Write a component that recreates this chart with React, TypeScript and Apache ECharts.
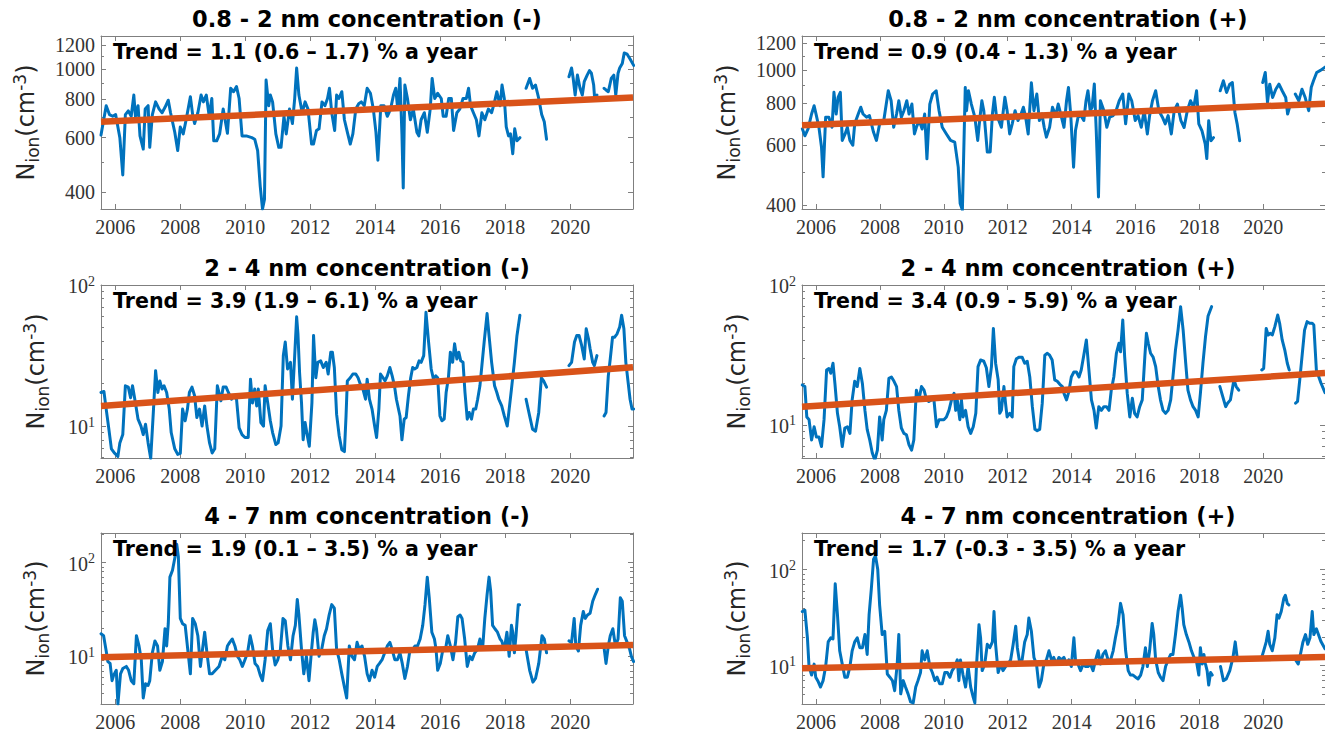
import React, { useEffect, useRef } from "react";
import * as echarts from "echarts";

const X_MIN = 2005.56;
const X_MAX = 2021.93;
const yearTicks = [2006, 2008, 2010, 2012, 2014, 2016, 2018, 2020];

// ---- 0.8 - 2 nm, negative ions ----
const neg08: [number, number | null][] = [
  [2005.56,612],[2005.72,762],[2005.82,713],[2005.92,704],[2006.01,713],[2006.14,600],[2006.23,454],[2006.31,713],[2006.40,733],[2006.49,704],[2006.57,825],[2006.62,704],[2006.70,762],[2006.76,608],[2006.86,551],[2006.92,743],[2007.01,762],[2007.06,558],[2007.14,713],[2007.24,784],[2007.35,743],[2007.44,723],[2007.53,753],[2007.63,794],[2007.70,723],[2007.83,625],[2007.92,545],[2008.00,650],[2008.09,617],[2008.18,686],[2008.31,815],[2008.38,713],[2008.44,667],[2008.54,723],[2008.64,825],[2008.71,784],[2008.80,825],[2008.89,704],[2008.97,804],[2009.03,586],[2009.12,586],[2009.21,617],[2009.32,743],[2009.45,620],[2009.55,868],[2009.64,846],[2009.73,879],[2009.81,804],[2009.90,608],[2010.03,608],[2010.20,600],[2010.29,593],[2010.38,545],[2010.46,417],[2010.53,352],[2010.59,378],[2010.64,923],[2010.72,762],[2010.77,825],[2010.84,784],[2010.94,617],[2011.03,558],[2011.10,558],[2011.19,704],[2011.26,617],[2011.36,743],[2011.45,667],[2011.52,804],[2011.58,1010],[2011.65,825],[2011.75,723],[2011.84,784],[2011.93,743],[2012.04,572],[2012.10,572],[2012.19,633],[2012.27,641],[2012.36,784],[2012.45,762],[2012.53,804],[2012.59,868],[2012.66,723],[2012.75,633],[2012.81,825],[2012.88,804],[2012.97,846],[2013.05,686],[2013.14,625],[2013.23,572],[2013.31,617],[2013.40,743],[2013.49,773],[2013.57,784],[2013.66,762],[2013.75,868],[2013.85,836],[2013.94,743],[2014.02,625],[2014.08,507],[2014.17,762],[2014.27,762],[2014.37,704],[2014.47,743],[2014.56,825],[2014.63,868],[2014.69,743],[2014.76,934],[2014.82,617],[2014.86,412],[2014.91,889],[2014.99,804],[2015.08,686],[2015.17,743],[2015.28,625],[2015.34,608],[2015.41,686],[2015.51,723],[2015.60,625],[2015.69,743],[2015.75,934],[2015.83,804],[2015.92,836],[2016.03,804],[2016.09,704],[2016.18,704],[2016.26,804],[2016.34,804],[2016.41,633],[2016.51,723],[2016.60,743],[2016.70,804],[2016.80,804],[2016.87,868],[2016.93,762],[2017.02,723],[2017.11,686],[2017.19,608],[2017.28,723],[2017.37,686],[2017.48,743],[2017.58,723],[2017.67,784],[2017.74,846],[2017.84,762],[2017.90,889],[2017.97,804],[2018.03,650],[2018.10,608],[2018.16,617],[2018.23,532],[2018.29,641],[2018.36,586],[2018.45,600],
  [2018.55,null],
  [2018.64,868],[2018.75,934],[2018.84,868],[2018.93,889],[2019.03,804],[2019.12,713],[2019.20,676],[2019.27,593],
  [2019.60,null],
  [2019.96,946],[2020.04,1010],[2020.09,934],[2020.15,825],[2020.22,958],[2020.30,868],[2020.37,825],[2020.43,912],[2020.52,958],[2020.59,990],[2020.65,971],[2020.72,889],[2020.75,804],[2020.82,825],
  [2020.93,null],
  [2021.04,868],[2021.10,857],[2021.17,846],[2021.26,934],[2021.34,958],[2021.40,825],[2021.47,971],[2021.52,1010],[2021.60,1045],[2021.66,1130],[2021.75,1120],[2021.84,1080],[2021.95,1030],
];

// ---- 0.8 - 2 nm, positive ions ----
const pos08: [number, number | null][] = [
  [2005.57,671],[2005.65,640],[2005.75,671],[2005.86,742],[2005.94,785],[2006.01,734],[2006.09,678],[2006.17,593],[2006.22,484],[2006.30,726],[2006.40,726],[2006.50,678],[2006.56,860],[2006.63,742],[2006.69,831],[2006.76,860],[2006.82,620],[2006.91,648],[2006.98,678],[2007.06,620],[2007.15,600],[2007.21,694],[2007.32,742],[2007.40,777],[2007.47,742],[2007.58,726],[2007.67,734],[2007.80,655],[2007.89,620],[2007.99,694],[2008.12,710],[2008.26,869],[2008.35,812],[2008.43,678],[2008.52,742],[2008.59,812],[2008.67,726],[2008.75,759],[2008.84,812],[2008.91,742],[2009.00,794],[2009.08,648],[2009.14,678],[2009.23,710],[2009.32,670],[2009.40,742],[2009.47,547],[2009.56,794],[2009.65,850],[2009.76,869],[2009.85,759],[2009.95,678],[2010.08,648],[2010.21,620],[2010.34,613],[2010.45,517],[2010.51,404],[2010.58,386],[2010.67,889],[2010.71,759],[2010.77,869],[2010.86,794],[2010.97,726],[2011.06,620],[2011.12,710],[2011.19,812],[2011.25,759],[2011.36,573],[2011.45,573],[2011.52,742],[2011.58,831],[2011.65,726],[2011.72,710],[2011.80,678],[2011.91,831],[2011.98,759],[2012.06,648],[2012.14,694],[2012.23,759],[2012.32,710],[2012.40,734],[2012.49,777],[2012.56,726],[2012.64,648],[2012.74,917],[2012.82,759],[2012.91,850],[2012.99,710],[2013.07,742],[2013.14,678],[2013.21,634],[2013.31,678],[2013.40,777],[2013.50,734],[2013.58,794],[2013.67,734],[2013.76,678],[2013.84,812],[2013.90,889],[2013.97,742],[2014.06,517],[2014.12,663],[2014.20,726],[2014.29,734],[2014.38,710],[2014.45,812],[2014.51,869],[2014.58,759],[2014.64,777],[2014.71,910],[2014.77,663],[2014.84,422],[2014.90,812],[2015.01,759],[2015.10,678],[2015.19,726],[2015.30,734],[2015.39,759],[2015.49,812],[2015.60,850],[2015.69,694],[2015.79,850],[2015.88,812],[2015.99,710],[2016.08,734],[2016.18,678],[2016.27,759],[2016.37,648],[2016.44,734],[2016.53,812],[2016.63,869],[2016.73,759],[2016.84,726],[2016.93,694],[2017.02,734],[2017.12,648],[2017.21,759],[2017.31,794],[2017.42,709],[2017.52,677],[2017.62,759],[2017.72,812],[2017.82,776],[2017.91,869],[2017.98,694],[2018.08,662],[2018.18,606],[2018.23,548],[2018.29,709],[2018.36,619],[2018.44,632],
  [2018.55,null],
  [2018.65,869],[2018.75,930],[2018.85,859],[2018.95,909],[2019.03,919],[2019.11,750],[2019.18,694],[2019.26,619],
  [2019.60,null],
  [2019.98,919],[2020.06,984],[2020.13,803],[2020.20,909],[2020.29,830],[2020.39,878],[2020.49,909],[2020.59,869],[2020.70,830],[2020.76,742],[2020.82,776],
  [2020.92,null],
  [2021.00,850],[2021.11,812],[2021.21,878],[2021.31,830],[2021.42,759],[2021.50,890],[2021.57,930],[2021.67,984],[2021.80,1000],[2021.93,1020],
];

// ---- 2 - 4 nm, negative ions ----
const neg24: [number, number | null][] = [
  [2005.56,17.3],[2005.65,17.6],[2005.72,13.2],[2005.79,10],[2005.88,6.9],[2005.97,6.45],[2006.08,6.1],[2006.14,7.6],[2006.23,8.7],[2006.31,19.3],[2006.40,18.9],[2006.47,15.9],[2006.53,19.3],[2006.62,14.6],[2006.70,11.2],[2006.79,10],[2006.86,8.7],[2006.93,10.3],[2007.01,7.6],[2007.09,5.9],[2007.17,12.5],[2007.24,24.7],[2007.31,17.3],[2007.37,20.9],[2007.44,18.3],[2007.50,19.3],[2007.58,17.3],[2007.66,13.2],[2007.72,9],[2007.83,6.9],[2007.92,6.3],[2008.00,6.4],[2008.07,13.2],[2008.15,10.9],[2008.22,13.2],[2008.28,17.3],[2008.36,18.9],[2008.44,16.4],[2008.51,11.5],[2008.59,13.2],[2008.67,10],[2008.75,13.9],[2008.82,10],[2008.90,7.6],[2008.98,6.45],[2009.06,6.9],[2009.14,19.3],[2009.19,17.3],[2009.25,15.1],[2009.32,18.9],[2009.41,18.9],[2009.48,17.3],[2009.58,15.5],[2009.65,16.4],[2009.73,15.5],[2009.81,9.7],[2009.90,8.7],[2009.99,8.3],[2010.09,8.3],[2010.16,21.5],[2010.22,14.6],[2010.29,18.3],[2010.35,13.9],[2010.40,18.3],[2010.48,10.6],[2010.56,10],[2010.61,19.3],[2010.69,14.6],[2010.77,10.9],[2010.84,9],[2010.94,7.4],[2011.01,7.6],[2011.10,10],[2011.17,31.6],[2011.23,39.4],[2011.30,25.4],[2011.39,28.3],[2011.45,15.5],[2011.52,31.6],[2011.58,59.5],[2011.62,45.1],[2011.67,24],[2011.73,14.6],[2011.78,8],[2011.84,10.6],[2011.91,8.5],[2011.97,7.2],[2012.05,14.6],[2012.10,43.9],[2012.17,22],[2012.23,28.3],[2012.32,29],[2012.40,26],[2012.49,28.3],[2012.55,23.4],[2012.63,33.4],[2012.68,33.4],[2012.74,26],[2012.81,12.1],[2012.89,8.5],[2012.97,6.8],[2013.05,6.6],[2013.10,11.8],[2013.14,20.9],[2013.23,22],[2013.31,23.4],[2013.40,23.4],[2013.47,22],[2013.54,19.8],[2013.62,18.3],[2013.70,15.5],[2013.75,21.5],[2013.82,15.5],[2013.90,13.2],[2013.98,10],[2014.04,8.3],[2014.11,13.2],[2014.16,23.4],[2014.24,22],[2014.30,20.9],[2014.37,22.7],[2014.45,26],[2014.52,22.7],[2014.59,19.3],[2014.65,15.5],[2014.76,11.8],[2014.82,8],[2014.89,11.2],[2014.95,11.5],[2015.02,16.4],[2015.09,22],[2015.15,26],[2015.21,25.4],[2015.28,26],[2015.35,29],[2015.41,28.3],[2015.49,31.6],[2015.56,64],[2015.64,39.4],[2015.72,25.4],[2015.79,21.5],[2015.86,22.7],[2015.92,22],[2015.99,11.8],[2016.05,10.9],[2016.12,11.2],[2016.18,17.3],[2016.25,22],[2016.31,33.4],[2016.38,28.3],[2016.44,38.3],[2016.51,29.9],[2016.57,33.4],[2016.63,29],[2016.70,28.3],[2016.76,17.3],[2016.83,11.2],[2016.89,12.5],[2016.96,11.2],[2017.02,13.2],[2017.09,13.2],[2017.15,15.5],[2017.22,19.3],[2017.28,26.8],[2017.35,39.4],[2017.44,62.7],[2017.50,43.9],[2017.58,28.3],[2017.67,19.3],[2017.74,17.3],[2017.80,15.5],[2017.89,13.9],[2017.97,11.8],[2018.06,10],[2018.12,13.2],[2018.19,18.3],[2018.28,28.3],[2018.36,43.9],[2018.45,61],
  [2018.55,null],
  [2018.64,15.5],[2018.75,11.8],[2018.84,9.5],[2018.93,9.2],[2019.03,12.5],[2019.11,22],[2019.18,20.9],[2019.27,18.9],
  [2019.60,null],
  [2019.96,26.8],[2020.04,28.3],[2020.13,39.4],[2020.20,43.9],[2020.27,43.9],[2020.35,37.3],[2020.43,29.9],[2020.49,48.9],[2020.56,41.6],[2020.61,35.3],[2020.69,28.3],[2020.74,26.8],[2020.82,31.6],
  [2020.93,null],
  [2021.04,11.8],[2021.10,12.5],[2021.17,22.7],[2021.23,29.9],[2021.30,42.6],[2021.36,42.6],[2021.44,45.1],[2021.52,50.4],[2021.58,61],[2021.65,48.9],[2021.71,28.3],[2021.78,20.4],[2021.84,15.5],[2021.90,13.2],[2021.95,13.2],
];

// ---- 2 - 4 nm, positive ions ----
const pos24: [number, number | null][] = [
  [2005.57,19.3],[2005.65,18.8],[2005.71,11.4],[2005.78,10.9],[2005.86,7.8],[2005.94,9.7],[2006.01,8.2],[2006.09,8.2],[2006.17,7],[2006.25,10.9],[2006.33,24.7],[2006.40,25.3],[2006.46,23.4],[2006.53,27.6],[2006.59,19.8],[2006.67,12.1],[2006.74,9.7],[2006.82,7],[2006.90,9.5],[2006.98,9.7],[2007.06,8.7],[2007.13,15.1],[2007.21,20.5],[2007.29,18.8],[2007.37,25.3],[2007.45,19.8],[2007.53,12.7],[2007.60,9.3],[2007.68,7.8],[2007.76,6.3],[2007.84,5.6],[2007.92,6.6],[2007.99,11.4],[2008.07,7.8],[2008.12,10.9],[2008.20,12.7],[2008.28,21.5],[2008.36,22],[2008.44,20.5],[2008.52,18.8],[2008.59,12.7],[2008.67,9.5],[2008.75,8.7],[2008.83,8.5],[2008.91,7.2],[2008.99,6.6],[2009.06,7.8],[2009.14,17.7],[2009.22,15.1],[2009.30,18.8],[2009.38,17.7],[2009.46,15.1],[2009.53,14.7],[2009.61,15.1],[2009.69,15.1],[2009.77,9.7],[2009.85,10.9],[2009.92,10.9],[2010.00,10.9],[2010.08,11.4],[2010.16,12.7],[2010.24,15.1],[2010.32,16.8],[2010.37,12.7],[2010.42,15.1],[2010.50,10.9],[2010.55,15.1],[2010.60,11.4],[2010.68,12.7],[2010.76,9.7],[2010.84,8.7],[2010.92,9.7],[2011.00,12.1],[2011.07,26.1],[2011.15,29.1],[2011.25,28.5],[2011.33,25.6],[2011.41,18.8],[2011.49,26.1],[2011.55,48.9],[2011.62,27.6],[2011.70,21],[2011.75,12.1],[2011.80,12.7],[2011.88,18.8],[2011.93,14.3],[2011.98,11.4],[2012.06,12.1],[2012.14,11.4],[2012.19,26.1],[2012.27,29.7],[2012.36,30.5],[2012.45,30.5],[2012.53,27.6],[2012.61,28.5],[2012.69,22],[2012.77,13.5],[2012.85,9.3],[2012.92,9.1],[2013.00,9.3],[2013.08,14.3],[2013.16,31.5],[2013.24,32.5],[2013.31,31.5],[2013.39,29.1],[2013.47,21],[2013.55,20.5],[2013.63,19.5],[2013.71,18.8],[2013.76,16.8],[2013.84,15.1],[2013.91,17.2],[2013.99,22],[2014.07,23.9],[2014.15,23.9],[2014.23,22],[2014.30,24.7],[2014.38,31.5],[2014.46,40.5],[2014.54,24.7],[2014.62,15.1],[2014.70,12.7],[2014.77,9.5],[2014.85,13.5],[2014.93,12.7],[2015.01,13.5],[2015.09,13.5],[2015.17,12.7],[2015.24,17.7],[2015.32,22],[2015.40,32.5],[2015.48,38.3],[2015.53,33.3],[2015.60,56.2],[2015.66,30.5],[2015.74,16.8],[2015.82,11.4],[2015.90,15.5],[2015.97,12.1],[2016.05,11.4],[2016.13,13.5],[2016.21,15.1],[2016.29,30.5],[2016.34,45.2],[2016.40,38.3],[2016.47,32.5],[2016.55,30.5],[2016.63,26.1],[2016.71,18.8],[2016.78,15.1],[2016.86,12.7],[2016.94,12.1],[2017.02,12.7],[2017.10,15.1],[2017.17,22],[2017.25,34.4],[2017.33,47.6],[2017.41,70],[2017.49,47.6],[2017.57,27.6],[2017.64,17.7],[2017.72,15.1],[2017.80,13.5],[2017.88,12.7],[2017.96,11.4],[2018.03,16.8],[2018.11,27.6],[2018.19,42.8],[2018.27,60],[2018.38,70],
  [2018.52,null],
  [2018.64,18.8],[2018.82,13.5],[2018.88,14.3],[2018.97,15.1],[2019.08,21],[2019.15,18.8],[2019.23,17.7],
  [2019.60,null],
  [2019.95,24.7],[2020.01,25.3],[2020.09,48.9],[2020.15,43.9],[2020.22,45.2],[2020.28,43.9],[2020.36,50.4],[2020.45,61],[2020.51,53.3],[2020.59,40.5],[2020.67,34.4],[2020.75,27.6],[2020.81,24.7],
  [2020.92,null],
  [2021.01,14.3],[2021.07,14.7],[2021.14,21],[2021.22,32.5],[2021.29,47.6],[2021.37,54.7],[2021.45,53.3],[2021.53,53.3],[2021.58,51.8],[2021.66,24.7],[2021.80,20],[2021.93,17],
];

// ---- 4 - 7 nm, negative ions ----
const neg47: [number, number | null][] = [
  [2005.56,17.4],[2005.64,16.6],[2005.72,11.4],[2005.77,8.8],[2005.84,8.4],[2005.90,5.5],[2005.95,6.3],[2006.03,7.1],[2006.08,3.1],[2006.16,6.5],[2006.23,7.4],[2006.34,7.8],[2006.41,7.1],[2006.49,5.5],[2006.57,5.1],[2006.65,16.6],[2006.73,12.9],[2006.80,9.2],[2006.86,3.6],[2006.93,5.1],[2007.01,4.9],[2007.06,5.5],[2007.14,10.9],[2007.22,14.6],[2007.30,12.9],[2007.37,7.1],[2007.45,8.8],[2007.53,19.7],[2007.58,12.9],[2007.63,22.3],[2007.68,70],[2007.76,83],[2007.84,116],[2007.89,157],[2007.94,116],[2008.00,25.4],[2008.07,22.3],[2008.15,21.4],[2008.23,11.8],[2008.31,6.5],[2008.38,25.4],[2008.46,22.3],[2008.54,16.6],[2008.62,7.8],[2008.67,10.9],[2008.75,18.1],[2008.82,10.9],[2008.90,6.5],[2008.98,6.5],[2009.08,7.1],[2009.19,7.8],[2009.29,10],[2009.37,9.2],[2009.45,12.9],[2009.52,14.1],[2009.60,15.3],[2009.68,12.9],[2009.76,10],[2009.83,9.2],[2009.91,7.8],[2009.99,9.2],[2010.07,10.9],[2010.15,16.6],[2010.22,12.9],[2010.30,8.4],[2010.38,7.8],[2010.46,6.3],[2010.53,5.5],[2010.61,9.2],[2010.69,18.8],[2010.77,22.3],[2010.84,11.8],[2010.92,8.1],[2011.00,9.2],[2011.08,11.8],[2011.16,25.4],[2011.23,23.9],[2011.31,12.9],[2011.39,9.2],[2011.47,16.6],[2011.54,21.4],[2011.60,40.5],[2011.65,27.6],[2011.73,11.8],[2011.80,6.5],[2011.88,10],[2011.96,5.5],[2012.04,11.8],[2012.09,18.1],[2012.14,24.6],[2012.19,19.7],[2012.27,10],[2012.35,11.8],[2012.43,16.6],[2012.50,19.7],[2012.58,27.6],[2012.66,35.6],[2012.74,32.6],[2012.81,11.8],[2012.89,9.2],[2012.97,6.5],[2013.05,4.7],[2013.12,3.6],[2013.20,12.9],[2013.28,10],[2013.36,9.2],[2013.44,14.1],[2013.51,11.8],[2013.59,12.9],[2013.67,10],[2013.75,6.5],[2013.82,5.5],[2013.90,7.1],[2013.98,6],[2014.06,7.8],[2014.13,8.4],[2014.21,9.2],[2014.29,10.9],[2014.37,12.9],[2014.45,14.1],[2014.52,11.8],[2014.60,9.2],[2014.68,9.2],[2014.76,10.9],[2014.83,8.4],[2014.91,5.8],[2014.99,7.8],[2015.07,11.8],[2015.15,11.8],[2015.22,12.9],[2015.30,12.9],[2015.38,15.3],[2015.46,21.4],[2015.53,35.6],[2015.60,70],[2015.66,42.2],[2015.74,18.1],[2015.82,15.3],[2015.87,11.8],[2015.92,7.1],[2016.00,8.4],[2016.08,11.8],[2016.16,11.8],[2016.23,16.6],[2016.31,12.9],[2016.39,9.2],[2016.47,14.1],[2016.54,26.5],[2016.61,27.6],[2016.67,25.4],[2016.75,15.3],[2016.83,7.8],[2016.91,10],[2016.98,9.2],[2017.06,10.9],[2017.14,11.8],[2017.22,15.3],[2017.30,11.8],[2017.37,25.4],[2017.44,45.6],[2017.50,70],[2017.55,50],[2017.61,21.4],[2017.68,19.7],[2017.76,18.1],[2017.84,15.3],[2017.89,14.6],[2017.97,11.8],[2018.05,18.1],[2018.12,10],[2018.19,21.4],[2018.23,18.1],[2018.28,10.9],[2018.33,16.6],[2018.40,35.6],[2018.44,35.6],
  [2018.55,null],
  [2018.64,11.8],[2018.75,7.1],[2018.85,5.3],[2018.93,5.8],[2019.03,8.4],[2019.13,16.6],[2019.20,15.3],[2019.27,10.9],
  [2019.60,null],
  [2019.96,14.6],[2020.04,14.1],[2020.12,25.4],[2020.17,12.9],[2020.25,11.4],[2020.32,21.4],[2020.40,30.1],[2020.46,25.4],[2020.53,27.6],[2020.61,28.8],[2020.69,38.7],[2020.77,45.6],[2020.84,52],
  [2020.94,null],
  [2021.04,12.3],[2021.10,8.4],[2021.17,12.9],[2021.23,16.6],[2021.31,19.7],[2021.39,12.9],[2021.47,15.3],[2021.54,42.2],[2021.60,38.7],[2021.67,16.6],[2021.75,14.1],[2021.83,11.8],[2021.88,10],[2021.95,8.8],
];

// ---- 4 - 7 nm, positive ions ----
const pos47: [number, number | null][] = [
  [2005.57,36.6],[2005.65,37.8],[2005.73,19.5],[2005.78,9.8],[2005.86,8.0],[2005.94,10.4],[2005.99,7.6],[2006.07,6.8],[2006.14,6.0],[2006.22,7.0],[2006.30,9.8],[2006.38,17.7],[2006.46,19.5],[2006.53,19],[2006.60,71],[2006.67,33.9],[2006.74,14.3],[2006.82,10.4],[2006.90,7.6],[2006.98,7.6],[2007.06,9.8],[2007.13,14.3],[2007.21,17.7],[2007.29,19.5],[2007.37,15.4],[2007.45,15.4],[2007.53,21.1],[2007.60,13.1],[2007.66,33.9],[2007.73,63],[2007.80,128],[2007.86,139],[2007.93,101],[2007.99,42.8],[2008.07,21.1],[2008.15,22.8],[2008.23,8.2],[2008.31,7.6],[2008.39,7.0],[2008.46,5.5],[2008.54,10.4],[2008.59,21.1],[2008.65,5.1],[2008.73,7.0],[2008.80,6.0],[2008.88,5.1],[2008.96,4.2],[2009.04,4.1],[2009.12,6.0],[2009.19,7.0],[2009.27,8.5],[2009.32,14.3],[2009.40,11.5],[2009.48,14.3],[2009.56,9.8],[2009.64,8.5],[2009.72,7.0],[2009.79,7.6],[2009.87,6.5],[2009.95,6.5],[2010.03,8.5],[2010.11,8.5],[2010.19,7.6],[2010.26,8.9],[2010.34,9.8],[2010.42,11.5],[2010.47,7.0],[2010.52,11.5],[2010.60,8.0],[2010.68,6.0],[2010.76,9.8],[2010.84,6.0],[2010.92,4.7],[2010.97,4.1],[2011.02,9.8],[2011.10,26.7],[2011.15,19.5],[2011.20,8.9],[2011.28,10.4],[2011.36,16.7],[2011.44,15.4],[2011.52,17.7],[2011.57,36.6],[2011.62,16.7],[2011.70,8.5],[2011.78,10.4],[2011.85,8.9],[2011.93,9.8],[2012.01,10.4],[2012.09,11.5],[2012.17,16.7],[2012.25,25.7],[2012.30,15.4],[2012.38,10.4],[2012.45,11.5],[2012.53,17.7],[2012.61,21.1],[2012.66,31.3],[2012.74,22.8],[2012.82,12.2],[2012.90,10.4],[2012.98,6.0],[2013.05,7.0],[2013.13,10.4],[2013.21,11.5],[2013.29,14.3],[2013.37,11.5],[2013.44,12.2],[2013.52,10.4],[2013.60,12.2],[2013.68,11.5],[2013.76,12.2],[2013.84,10.4],[2013.91,11.5],[2013.99,9.8],[2014.07,19.5],[2014.12,11.5],[2014.20,10.4],[2014.28,8.9],[2014.36,10.4],[2014.44,9.8],[2014.51,9.8],[2014.59,10.4],[2014.67,8.9],[2014.75,11.5],[2014.83,14.3],[2014.90,10.4],[2014.98,13.1],[2015.06,14.3],[2015.14,11.5],[2015.22,11.5],[2015.30,14.3],[2015.37,19.5],[2015.45,26.7],[2015.53,44.5],[2015.61,33.9],[2015.69,14.3],[2015.77,8.9],[2015.84,8.0],[2015.92,8.0],[2016.00,7.6],[2016.08,7.3],[2016.16,8.0],[2016.23,9.8],[2016.31,15.4],[2016.37,9.8],[2016.44,14.3],[2016.52,27.5],[2016.57,21.1],[2016.63,11.5],[2016.71,8.5],[2016.78,7.6],[2016.86,7.0],[2016.94,9.8],[2017.02,11.5],[2017.10,13.1],[2017.17,13.1],[2017.25,21.1],[2017.33,36.6],[2017.41,54],[2017.46,39.5],[2017.51,26.7],[2017.59,21.1],[2017.67,17.7],[2017.75,14.3],[2017.83,12.2],[2017.90,11.5],[2017.98,8.0],[2018.03,15.4],[2018.09,10.4],[2018.14,13.1],[2018.19,10.4],[2018.24,8.9],[2018.29,6.3],[2018.35,8.5],[2018.40,8.0],
  [2018.53,null],
  [2018.66,9.8],[2018.75,7.0],[2018.84,7.3],[2018.95,8.9],[2019.05,12.2],[2019.12,17.7],[2019.18,12.2],[2019.26,11.5],
  [2019.60,null],
  [2019.95,12.2],[2020.01,14.3],[2020.09,17.7],[2020.15,22.8],[2020.20,16.7],[2020.28,14.3],[2020.36,19.5],[2020.43,33.9],[2020.49,31.3],[2020.56,36.6],[2020.64,50.1],[2020.69,54],[2020.75,44.5],[2020.80,42.8],
  [2020.91,null],
  [2021.01,11.5],[2021.09,10.4],[2021.16,13.1],[2021.24,17.7],[2021.32,21.1],[2021.39,16.7],[2021.46,19.5],[2021.53,36.6],[2021.58,21.1],[2021.66,24.2],[2021.80,18],[2021.93,15],
];

// trend line end values (at X_MIN and X_MAX)
const trendNeg08 = [676, 810];
const trendPos08 = [687, 796];
const trendNeg24 = [13.9, 26.1];
const trendPos24 = [13.5, 23.5];
const trendNeg47 = [9.8, 13.2];
const trendPos47 = [9.4, 12.3];

const ticks08 = [400, 600, 800, 1000, 1200];
const minor08 = [500, 700, 900, 1100];
const ticksDec = [10, 100];
const minor24 = [6, 7, 8, 9, 20, 30, 40, 50, 60, 70, 80, 90];
const minor47 = [4, 5, 6, 7, 8, 9, 20, 30, 40, 50, 60, 70, 80, 90, 200];

const titles = [
  "0.8 - 2 nm concentration (-)",
  "0.8 - 2 nm concentration (+)",
  "2 - 4 nm concentration (-)",
  "2 - 4 nm concentration (+)",
  "4 - 7 nm concentration (-)",
  "4 - 7 nm concentration (+)",
];
const trendTexts = [
  "Trend = 1.1 (0.6 \u2013 1.7) % a year",
  "Trend = 0.9 (0.4 - 1.3) % a year",
  "Trend = 3.9 (1.9 \u2013 6.1) % a year",
  "Trend = 3.4 (0.9 - 5.9) % a year",
  "Trend = 1.9 (0.1 \u2013 3.5) % a year",
  "Trend = 1.7 (-0.3 - 3.5) % a year",
];

const BLUE = "#0072BD";
const ORANGE = "#D95319";
const BOX = "#7f7f7f";
const LABEL = "#333333";
const SERIF = "'Liberation Serif', 'DejaVu Serif', serif";
const SANS = "'DejaVu Sans', sans-serif";

const L = Math.log10;

export default function App() {
  const ref = useRef<HTMLDivElement>(null);
  useEffect(() => {
    if (!ref.current) return;
    const chart = echarts.init(ref.current, undefined, { renderer: "svg" });

    const panels = [
      { data: neg08, trend: trendNeg08, yMin: 352, yMax: 1283, major: ticks08, minor: minor08, pow: false, left: 101, top: 36 },
      { data: pos08, trend: trendPos08, yMin: 389, yMax: 1261, major: ticks08, minor: minor08, pow: false, left: 802, top: 36 },
      { data: neg24, trend: trendNeg24, yMin: 5.94, yMax: 100, major: ticksDec, minor: minor24, pow: true, left: 101, top: 285 },
      { data: pos24, trend: trendPos24, yMin: 5.8, yMax: 100, major: ticksDec, minor: minor24, pow: true, left: 802, top: 285 },
      { data: neg47, trend: trendNeg47, yMin: 3.1, yMax: 207, major: ticksDec, minor: minor47, pow: true, left: 101, top: 533 },
      { data: pos47, trend: trendPos47, yMin: 4.0, yMax: 240, major: ticksDec, minor: minor47, pow: true, left: 802, top: 533 },
    ];
    const W = 532;
    const H = 173;

    const grid: any[] = [];
    const xAxis: any[] = [];
    const yAxis: any[] = [];
    const series: any[] = [];
    const graphic: any[] = [];

    panels.forEach((p, i) => {
      grid.push({ left: p.left, top: p.top, width: W, height: H });
      const baseX = {
        gridIndex: i, type: "value", min: X_MIN, max: X_MAX,
        axisLine: { show: true, onZero: false, lineStyle: { color: BOX, width: 1 } },
        axisTick: { show: true, inside: true, length: 5, customValues: yearTicks, lineStyle: { color: BOX, width: 1 } },
        splitLine: { show: false },
      };
      xAxis.push({
        ...baseX, position: "bottom",
        axisLabel: {
          show: true, customValues: yearTicks, margin: 8,
          formatter: (v: number) => String(Math.round(v)),
          fontFamily: SERIF, fontSize: 20, color: LABEL,
        },
      });
      xAxis.push({ ...baseX, position: "top", axisLabel: { show: false } });

      const yMin = L(p.yMin), yMax = L(p.yMax);
      const majorV = p.major.map(L);
      const minorV = p.minor.map(L);
      const baseY = { gridIndex: i, type: "value", min: yMin, max: yMax, splitLine: { show: false } };
      yAxis.push({
        ...baseY, position: "left",
        axisLine: { show: true, onZero: false, lineStyle: { color: BOX, width: 1 } },
        axisTick: { show: true, inside: true, length: 5, customValues: majorV, lineStyle: { color: BOX } },
        axisLabel: {
          show: true, customValues: majorV, margin: 6,
          formatter: p.pow
            ? (v: number) => "{b|10}{s|" + Math.round(v) + "}"
            : (v: number) => String(Math.round(Math.pow(10, v))),
          fontFamily: SERIF, fontSize: 20, color: LABEL,
          rich: {
            b: { fontFamily: SERIF, fontSize: 20, color: LABEL, lineHeight: 22, verticalAlign: "bottom" },
            s: { fontFamily: SERIF, fontSize: 14, color: LABEL, lineHeight: 12, verticalAlign: "top" },
          },
        },
        name: "{n|N}{sub|ion}{n|(cm}{sup|-3}{n|)}",
        nameLocation: "middle",
        nameRotate: 90,
        nameGap: p.pow ? 50 : 60,
        nameTextStyle: {
          fontFamily: SANS, color: "#262626",
          rich: {
            n: { fontFamily: SANS, fontSize: 24, color: "#262626", lineHeight: 30, verticalAlign: "middle" },
            sub: { fontFamily: SANS, fontSize: 17, color: "#262626", lineHeight: 12, verticalAlign: "bottom" },
            sup: { fontFamily: SANS, fontSize: 17, color: "#262626", lineHeight: 12, verticalAlign: "top" },
          },
        },
      });
      yAxis.push({
        ...baseY, position: "left",
        axisLine: { show: false, onZero: false },
        axisTick: { show: true, inside: true, length: 3, customValues: minorV, lineStyle: { color: BOX } },
        axisLabel: { show: false },
      });
      yAxis.push({
        ...baseY, position: "right",
        axisLine: { show: true, onZero: false, lineStyle: { color: BOX, width: 1 } },
        axisTick: { show: true, inside: true, length: 5, customValues: majorV, lineStyle: { color: BOX } },
        axisLabel: { show: false },
      });
      yAxis.push({
        ...baseY, position: "right",
        axisLine: { show: false, onZero: false },
        axisTick: { show: true, inside: true, length: 3, customValues: minorV, lineStyle: { color: BOX } },
        axisLabel: { show: false },
      });

      series.push({
        type: "line", xAxisIndex: 2 * i, yAxisIndex: 4 * i,
        data: p.data.map(([t, v]) => [t, v == null ? "-" : L(v)]),
        showSymbol: false, symbol: "none", connectNulls: false,
        lineStyle: { color: BLUE, width: 3, join: "round", cap: "round" },
        z: 2, silent: true,
      });
      series.push({
        type: "line", xAxisIndex: 2 * i, yAxisIndex: 4 * i,
        data: [[X_MIN, L(p.trend[0])], [X_MAX, L(p.trend[1])]],
        showSymbol: false, symbol: "none",
        lineStyle: { color: ORANGE, width: 6.5 },
        z: 3, silent: true,
      });

      graphic.push({
        type: "text", x: p.left + W / 2, y: p.top - 17,
        style: {
          text: titles[i], fill: "#000", fontFamily: SANS, fontWeight: "bold", fontSize: 22.5,
          textAlign: "center", textVerticalAlign: "middle", align: "center", verticalAlign: "middle",
        },
      });
      graphic.push({
        type: "text", x: p.left + 12, y: p.top + 16, z: 10,
        style: {
          text: trendTexts[i], fill: "#000", fontFamily: SANS, fontWeight: "bold", fontSize: 20.6,
          textAlign: "left", textVerticalAlign: "middle", align: "left", verticalAlign: "middle",
        },
      });
    });

    chart.setOption({
      animation: false,
      backgroundColor: "#ffffff",
      grid, xAxis, yAxis, series, graphic,
    });
    return () => chart.dispose();
  }, []);

  return (
    <div
      ref={ref}
      style={{ position: "fixed", left: 0, top: 0, width: 1325, height: 732, background: "#fff" }}
    />
  );
}
